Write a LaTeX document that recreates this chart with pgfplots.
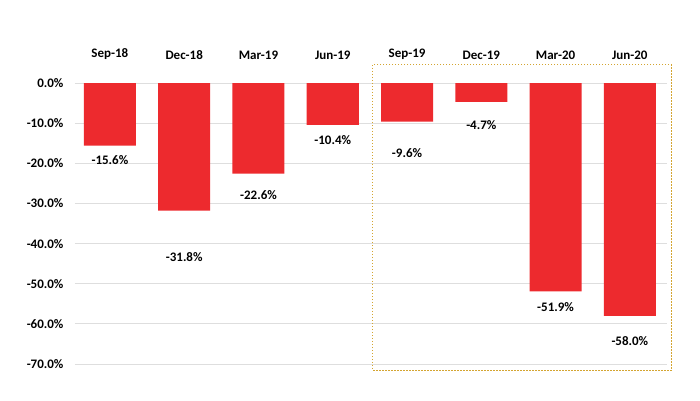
\documentclass[border=0pt]{standalone}
\usepackage{pgfplots}
\pgfplotsset{compat=1.18}
\usepackage{fontspec}
\setmainfont{Carlito}
\definecolor{barred}{RGB}{237,42,46}
\definecolor{boxgold}{RGB}{212,165,50}
\definecolor{gridgray}{RGB}{222,222,222}
\begin{document}
\begin{tikzpicture}
\path[use as bounding box] (-75pt,-36pt) rectangle (625pt,364pt);
\begin{axis}[
  scale only axis,
  width=592pt, height=281pt,
  xmin=-0.47, xmax=7.5,
  ymin=-70, ymax=0,
  axis line style={draw=none},
  tick style={draw=none},
  ymajorgrids, grid style={gridgray, line width=0.8pt},
  xtick={0,...,7},
  xticklabels={Sep-18,Dec-18,Mar-19,Jun-19,Sep-19,Dec-19,Mar-20,Jun-20},
  xticklabel pos=upper,
  xticklabel style={font=\fontsize{13}{15}\selectfont\bfseries, anchor=south, yshift=20pt},
  ytick={-70,-60,-50,-40,-30,-20,-10,0},
  yticklabels={-70.0\%,-60.0\%,-50.0\%,-40.0\%,-30.0\%,-20.0\%,-10.0\%,0.0\%},
  yticklabel style={font=\fontsize{13}{15}\selectfont\bfseries, anchor=east, xshift=-8pt},
  clip=false,
]
\addplot[ybar, bar width=52pt, fill=barred, draw=none] coordinates {
  (0,-15.6) (1,-31.8) (2,-22.6) (3,-10.4) (4,-9.6) (5,-4.7) (6,-51.9) (7,-58.0)};
\addplot[draw=none, mark=none, nodes near coords, point meta=explicit symbolic,
  nodes near coords style={font=\fontsize{13}{15}\selectfont\bfseries, anchor=center}]
  coordinates {
  (0,-19.2) [-15.6\%]
  (1,-43.4) [-31.8\%]
  (2,-27.9) [-22.6\%]
  (3,-14.2) [-10.4\%]
  (4,-17.5) [-9.6\%]
  (5,-10.5) [-4.7\%]
  (6,-55.9) [-51.9\%]
  (7,-64.3) [-58.0\%]};
\draw[boxgold, line width=1pt, dash pattern=on 1.5pt off 1.5pt] (axis cs:3.54,4.5) rectangle (axis cs:7.56,-71.6);
\end{axis}
\end{tikzpicture}
\end{document}
